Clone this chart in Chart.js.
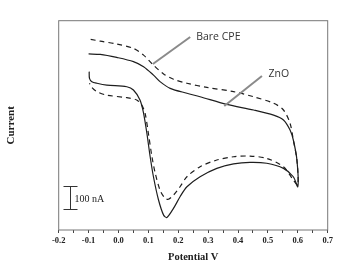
<!DOCTYPE html>
<html>
<head>
<meta charset="utf-8">
<script src="https://cdn.jsdelivr.net/npm/chart.js@4/dist/chart.umd.min.js"></script>
<style>
  html, body { margin: 0; padding: 0; background: #fff; }
  #wrap { width: 345px; height: 269px; }
</style>
</head>
<body>
<div id="wrap"><canvas id="cvChart" width="345" height="269"></canvas></div>
<script>
// Cyclic voltammograms: ZnO (solid) and bare CPE (dashed)
// potential in V, current in nA (arbitrary offset, axis has no ticks)
const znoPotential = [-0.1, -0.061, -0.006, 0.050, 0.084, 0.117, 0.139, 0.173, 0.229, 0.273, 0.362, 0.452, 0.519, 0.552, 0.574, 0.585, 0.597, 0.6,
    0.585, 0.552, 0.496, 0.440, 0.385, 0.329, 0.273, 0.229, 0.206, 0.184, 0.162, 0.151, 0.134, 0.117, 0.106, 0.095, 0.084, 0.072, 0.050, 0.028, -0.039, -0.072, -0.089, -0.097, -0.098];
const znoCurrent = [757, 755, 742, 724, 702, 666, 638, 609, 588, 573, 540, 516, 494, 473, 430, 387, 301, 186,
    229, 265, 287, 291, 284, 265, 229, 186, 143, 93, 54, 64, 129, 229, 315, 416, 502, 559, 602, 616, 623, 631, 638, 652, 681];

const barePotential = [-0.093, -0.061, -0.006, 0.050, 0.084, 0.117, 0.151, 0.184, 0.229, 0.296, 0.385, 0.452, 0.519, 0.552, 0.574, 0.585, 0.597, 0.6,
    0.585, 0.552, 0.496, 0.440, 0.385, 0.329, 0.273, 0.229, 0.206, 0.184, 0.167, 0.156, 0.139, 0.123, 0.112, 0.100, 0.089, 0.078, 0.061, 0.028, -0.039, -0.072, -0.089, -0.097];
const bareCurrent = [820, 812, 800, 781, 752, 709, 671, 648, 631, 613, 595, 573, 545, 516, 459, 387, 301, 193,
    215, 272, 308, 318, 315, 301, 272, 229, 186, 150, 132, 136, 172, 244, 315, 416, 502, 537, 559, 569, 580, 595, 613, 631];

// callout lines [x1, y1, x2, y2] and label anchors, in data units
const bareCallout = [0.240, 830, 0.115, 714];
const znoCallout = [0.480, 662, 0.354, 533];
const calloutLabels = ['Bare CPE', 'ZnO'];
const calloutLabelPos = [[0.260, 830], [0.502, 671]];

// 100 nA scale bar
const scaleBarX = -0.162;
const scaleBarY = [90, 190];
const scaleBarLabel = '100 nA';

const xTickLabels = ['-0.2', '-0.1', '0.0', '0.1', '0.2', '0.3', '0.4', '0.5', '0.6', '0.7'];

function toPoints(xs, ys) {
    return xs.map((x, i) => ({ x: x, y: ys[i] }));
}

const serif = '"Liberation Serif", "DejaVu Serif", serif';

const overlayPlugin = {
    id: 'overlay',
    afterDatasetsDraw(chart) {
        const ctx = chart.ctx;
        const xs = chart.scales.x;
        const ys = chart.scales.y;
        const a = chart.chartArea;
        ctx.save();

        // frame
        ctx.strokeStyle = '#777';
        ctx.lineWidth = 1;
        ctx.strokeRect(a.left, a.top, a.right - a.left, a.bottom - a.top);

        // callouts
        ctx.strokeStyle = '#8a8a8a';
        ctx.lineWidth = 2;
        [bareCallout, znoCallout].forEach(c => {
            ctx.beginPath();
            ctx.moveTo(xs.getPixelForValue(c[0]), ys.getPixelForValue(c[1]));
            ctx.lineTo(xs.getPixelForValue(c[2]), ys.getPixelForValue(c[3]));
            ctx.stroke();
        });
        ctx.fillStyle = '#333';
        ctx.font = '10.5px "Open Sans", sans-serif';
        ctx.textBaseline = 'middle';
        ctx.textAlign = 'left';
        calloutLabels.forEach((t, i) => {
            ctx.fillText(t, xs.getPixelForValue(calloutLabelPos[i][0]), ys.getPixelForValue(calloutLabelPos[i][1]));
        });

        // scale bar
        const bx = Math.round(xs.getPixelForValue(scaleBarX)) + 0.5;
        const y0 = Math.round(ys.getPixelForValue(scaleBarY[0])) + 0.5;
        const y1 = Math.round(ys.getPixelForValue(scaleBarY[1])) + 0.5;
        ctx.strokeStyle = '#333';
        ctx.lineWidth = 1;
        ctx.beginPath();
        ctx.moveTo(bx, y0); ctx.lineTo(bx, y1);
        ctx.moveTo(bx - 7, y0); ctx.lineTo(bx + 7, y0);
        ctx.moveTo(bx - 7, y1); ctx.lineTo(bx + 7, y1);
        ctx.stroke();
        ctx.fillStyle = '#222';
        ctx.font = '10px ' + serif;
        ctx.fillText(scaleBarLabel, bx + 4, (y0 + y1) / 2 + 1);

        ctx.restore();
    }
};

new Chart(document.getElementById('cvChart'), {
    type: 'scatter',
    data: {
        datasets: [
            {
                label: 'ZnO',
                data: toPoints(znoPotential, znoCurrent),
                showLine: true,
                borderColor: '#1e1e1e',
                borderWidth: 1.2,
                pointRadius: 0,
                tension: 0.3
            },
            {
                label: 'Bare CPE',
                data: toPoints(barePotential, bareCurrent),
                showLine: true,
                borderColor: '#1e1e1e',
                borderWidth: 1.2,
                borderDash: [5, 4],
                pointRadius: 0,
                tension: 0.3
            }
        ]
    },
    options: {
        responsive: false,
        animation: false,
        layout: { padding: { left: 0, right: 17.3, top: 20.7, bottom: 0 } },
        plugins: {
            legend: { display: false },
            tooltip: { enabled: false }
        },
        scales: {
            x: {
                type: 'linear',
                min: -0.2,
                max: 0.7,
                afterFit: (scale) => { scale.height = 39; },
                afterBuildTicks: (scale) => {
                    const t = [];
                    for (let i = 0; i <= 18; i++) t.push({ value: -0.2 + i * 0.05 });
                    scale.ticks = t;
                },
                border: { display: false },
                grid: {
                    drawOnChartArea: false,
                    tickLength: 3,
                    color: '#444'
                },
                ticks: {
                    autoSkip: false,
                    maxRotation: 0,
                    padding: 3,
                    color: '#222',
                    font: { family: serif, size: 8.5, weight: 'bold' },
                    callback: function (v, i) {
                        return i % 2 === 0 ? xTickLabels[i / 2] : '';
                    }
                },
                title: {
                    display: true,
                    text: 'Potential V',
                    color: '#222',
                    font: { family: serif, size: 10.5, weight: 'bold' },
                    padding: { top: 0, bottom: 5.5 }
                }
            },
            y: {
                type: 'linear',
                min: 0,
                max: 900,
                afterFit: (scale) => { scale.width = 58.7; },
                border: { display: false },
                grid: { display: false },
                ticks: { display: false },
                title: {
                    display: true,
                    text: 'Current',
                    color: '#222',
                    font: { family: serif, size: 11, weight: 'bold' },
                    padding: { top: 5, bottom: 0 }
                }
            }
        }
    },
    plugins: [overlayPlugin]
});
</script>
</body>
</html>
